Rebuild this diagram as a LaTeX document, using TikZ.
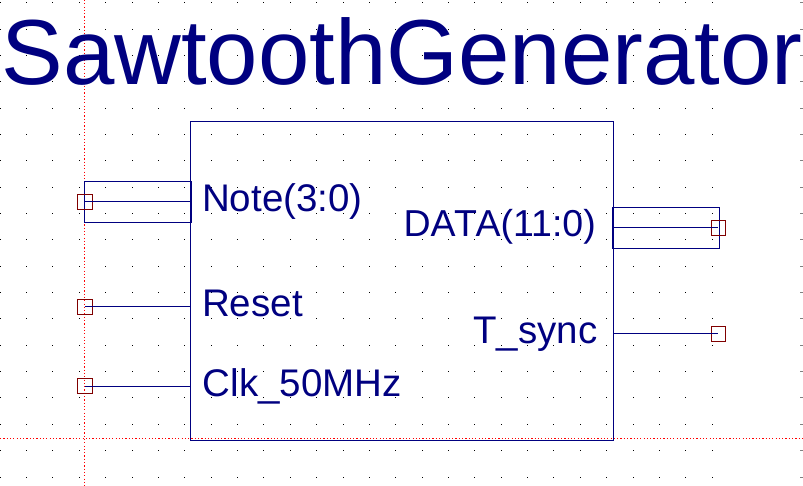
\documentclass[tikz,border=0pt]{standalone}
\usepackage{fontspec}
\setmainfont{Liberation Sans}
\definecolor{navy}{HTML}{000080}
\definecolor{pinred}{HTML}{800000}
\begin{document}
\begin{tikzpicture}[x=1pt,y=-1pt,
  wire/.style={draw=navy, line width=1pt},
  busbox/.style={draw=navy, line width=1pt, inner sep=0pt, minimum height=41pt},
  pinsq/.style={draw=pinred, line width=1pt, inner sep=0pt, minimum size=14.5pt},
  lbl/.style={text=navy, inner sep=0pt, font=\fontsize{38.5}{40}\selectfont},
  guide/.style={draw=red, line width=1.2pt, dash pattern=on 1.2pt off 2.1pt}]
\useasboundingbox (0,0) rectangle (803,486);
% grid dots
\foreach \i in {0,...,27}{
  \foreach \j in {0,...,18}{
    \fill (0.2+26.37*\i-0.5, 2.7+26.35*\j-0.5) rectangle ++(1,1);
  }
}
% edge ticks
\foreach \j in {0,...,18}{
  \draw[gray, line width=1pt] (800,2.7+26.35*\j) -- (803,2.7+26.35*\j);
}
% red guides
\draw[guide] (84.3,0) -- (84.3,486);
\draw[guide] (0,438.3) -- (803,438.3);
% title
\node[anchor=base west, inner sep=0pt, text=navy, font=\fontsize{92.4}{96}\selectfont] (title) at (1.2,85) {SawtoothGenerator};
% block
\node[draw=navy, line width=1pt, inner sep=0pt, anchor=north west,
      minimum width=423pt, minimum height=318.7pt] (box) at (190.3,121.3) {};
% buses
\node[busbox, minimum width=106.7pt] (busNote) at (137.65,201.8) {};
\node[busbox, minimum width=107pt] (busData) at (665.8,227.8) {};
% pins
\node[pinsq] (pNote) at (85,201.8) {};
\node[pinsq] (pReset) at (85,306.8) {};
\node[pinsq] (pClk) at (85,386.2) {};
\node[pinsq] (pData) at (718.3,227.8) {};
\node[pinsq] (pSync) at (718.3,333.8) {};
% wires
\draw[wire] (pNote.center) -- (pNote.center -| box.west);
\draw[wire] (pReset.center) -- (pReset.center -| box.west);
\draw[wire] (pClk.center) -- (pClk.center -| box.west);
\draw[wire] (box.east |- pData.center) -- (pData.center);
\draw[wire] (box.east |- pSync.center) -- (pSync.center);
% labels
\node[lbl, anchor=base west] (lNote) at (202,211.5) {Note(3:0)};
\node[lbl, anchor=base west] (lReset) at (202,316.5) {Reset};
\node[lbl, anchor=base west] (lClk) at (202.5,396.5) {Clk\_50MHz};
\node[lbl, anchor=base east, font=\fontsize{37.5}{40}\selectfont] (lData) at (596,236.5) {DA\kern-1.5pt T\kern-1.5pt A(11:0)};
\node[lbl, anchor=base east] (lSync) at (597.5,343.5) {T\_sync};
\end{tikzpicture}
\end{document}
